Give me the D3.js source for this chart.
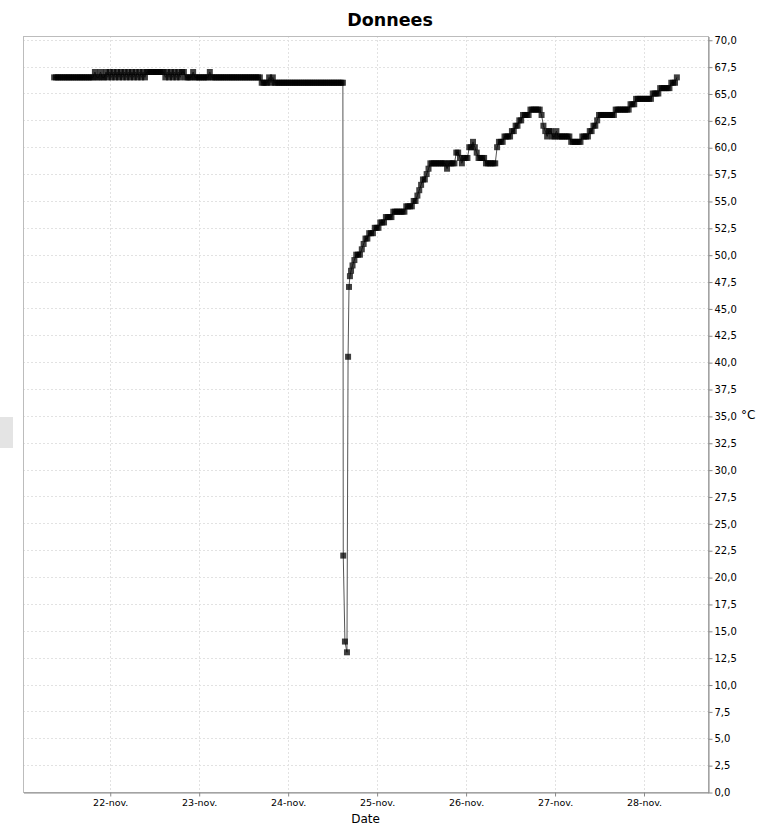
<!DOCTYPE html>
<html>
<head>
<meta charset="utf-8">
<script src="https://cdn.jsdelivr.net/npm/d3@7"></script>
<style>
  body { margin: 0; background: #fff; }
  text { font-family: "DejaVu Sans", sans-serif; }
</style>
</head>
<body>
<svg id="chart"></svg>
<script>
    // releves toutes les 30 min ; heures comptees depuis le 22-nov 00:00
    var pasHeures = 0.5;
    var debutPalier = -15;
    var palier = [
        66.5,66.5,66.5,66.5,66.5,66.5,66.5,66.5,66.5,66.5,66.5,66.5,
        66.5,66.5,66.5,66.5,66.5,66.5,66.5,66.5,66.5,66.5,67,66.5,
        66.5,67,66.5,66.5,67,66.5,67,66.5,67,66.5,67,66.5,
        67,66.5,67,66.5,67,66.5,67,66.5,67,66.5,67,66.5,
        67,66.5,67,67,67,67,67,67,67,67,67,67,
        66.5,67,66.5,67,66.5,67,66.5,67,66.5,67,67,66.5,
        66.5,66.5,66.5,67,66.5,66.5,66.5,66.5,66.5,66.5,66.5,66.5,
        67,66.5,66.5,66.5,66.5,66.5,66.5,66.5,66.5,66.5,66.5,66.5,
        66.5,66.5,66.5,66.5,66.5,66.5,66.5,66.5,66.5,66.5,66.5,66.5,
        66.5,66.5,66.5,66.5,66,66,66,66,66.5,66,66.5,66,
        66,66,66,66,66,66,66,66,66,66,66,66,
        66,66,66,66,66,66,66,66,66,66,66,66,
        66,66,66,66,66,66,66,66,66,66,66,66
    ];
    // chute brutale : releves irreguliers [heure, °C]
    var chute = [
        [62.9,66],[63,22],[63.45,14],[64,13],[64.3,40.5],[64.55,47],[64.8,48],[65.1,48.5],[65.5,49],[66,49.5]
    ];
    var debutRemontee = 66.5;
    var remontee = [
        50,50,50,50.5,51,51.5,51.5,52,52,52,52.5,52.5,
        52.5,53,53,53,53.5,53.5,53.5,53.5,54,54,54,54,
        54,54,54,54.5,54.5,54.5,54.5,55,55,55.5,56,56.5,
        57,57,57.5,58,58.5,58.5,58.5,58.5,58.5,58.5,58.5,58.5,
        58.5,58,58.5,58.5,58.5,58.5,59.5,59.5,59,58.5,59,59,
        59,60,60,60.5,60,59.5,59,59,59,59,58.5,58.5,
        58.5,58.5,58.5,58.5,60,60.5,60.5,60.5,61,61,61,61,
        61.5,61.5,62,62,62.5,62.5,63,63,63,63,63.5,63.5,
        63.5,63.5,63.5,63.5,63,62,61.5,61,61.5,61.5,61,61,
        61.5,61,61,61,61,61,61,61,60.5,60.5,60.5,60.5,
        60.5,60.5,61,61,61,61,61.5,61.5,62,62,62.5,63,
        63,63,63,63,63,63,63,63,63.5,63.5,63.5,63.5,
        63.5,63.5,63.5,63.5,64,64,64,64.5,64.5,64.5,64.5,64.5,
        64.5,64.5,64.5,64.5,65,65,65,65,65.5,65.5,65.5,65.5,
        65.5,65.5,66,66,66,66.5
    ];
    var ticksY = d3.range(0, 70.01, 2.5);
    var moisCourts = ["janv.","févr.","mars","avr.","mai","juin","juil.","août","sept.","oct.","nov.","déc."];

    var width = 765;
    var height = 828;
    var plotG = 23, plotD = 708, plotH = 36, plotB = 792;

    var origine = new Date(2023, 10, 22);
    var releves = palier.map(function(v, i) { return [debutPalier + i * pasHeures, v]; })
        .concat(chute)
        .concat(remontee.map(function(v, i) { return [debutRemontee + i * pasHeures, v]; }));
    var data = releves.map(function(d) {
        return { date: new Date(origine.getTime() + d[0] * 3600e3), temp: d[1] };
    });

    var locale = d3.timeFormatLocale({
        dateTime: "%A %e %B %Y à %X", date: "%d/%m/%Y", time: "%H:%M:%S",
        periods: ["AM", "PM"],
        days: ["dimanche","lundi","mardi","mercredi","jeudi","vendredi","samedi"],
        shortDays: ["dim.","lun.","mar.","mer.","jeu.","ven.","sam."],
        months: ["janvier","février","mars","avril","mai","juin","juillet","août","septembre","octobre","novembre","décembre"],
        shortMonths: moisCourts
    });
    var formatJour = locale.format("%d-%b");

    var chart = d3.select('#chart')
        .attr('width', width)
        .attr('height', height);

    // marge de 5% de chaque cote, comme le graphique d'origine
    var ext = d3.extent(data, function(d) { return d.date; });
    var marge = (ext[1] - ext[0]) * 0.05;
    var x = d3.scaleTime()
        .domain([new Date(+ext[0] - marge), new Date(+ext[1] + marge)])
        .range([plotG, plotD]);
    var y = d3.scaleLinear().domain([0, 70.35]).range([plotB, plotH]);

    // petit bouton gris a gauche
    chart.append('rect')
        .attr('x', 0).attr('y', 417).attr('width', 13).attr('height', 31)
        .attr('fill', '#e4e4e4');

    // grille
    var jours = x.ticks(d3.timeDay.every(1));
    chart.append('g').selectAll('line')
        .data(jours).enter().append('line')
        .attr('x1', function(d) { return Math.round(x(d)) + 0.5; })
        .attr('x2', function(d) { return Math.round(x(d)) + 0.5; })
        .attr('y1', plotH).attr('y2', plotB)
        .attr('stroke', '#e2e2e2').attr('stroke-dasharray', '2,2');
    chart.append('g').selectAll('line')
        .data(ticksY).enter().append('line')
        .attr('y1', function(d) { return Math.round(y(d)) + 0.5; })
        .attr('y2', function(d) { return Math.round(y(d)) + 0.5; })
        .attr('x1', plotG).attr('x2', plotD)
        .attr('stroke', '#e2e2e2').attr('stroke-dasharray', '2,2');

    // cadre
    chart.append('rect')
        .attr('x', plotG + 0.5).attr('y', plotH + 0.5)
        .attr('width', plotD - plotG).attr('height', plotB - plotH)
        .attr('fill', 'none').attr('stroke', '#bcbcbc');

    // axes
    var xAxis = d3.axisBottom(x).tickValues(jours).tickFormat(formatJour)
        .tickSize(4).tickSizeOuter(0).tickPadding(3);
    var axisX = chart.append('g')
        .attr('transform', 'translate(0.5,' + (plotB + 0.5) + ')')
        .call(xAxis);
    axisX.select('.domain').attr('stroke', '#8a8a8a');
    axisX.selectAll('.tick line').attr('stroke', '#8a8a8a');
    axisX.selectAll('text').attr('font-size', '9.5px').attr('fill', '#000')
        .attr('font-family', 'DejaVu Sans');

    var yAxis = d3.axisRight(y).tickValues(ticksY)
        .tickFormat(function(d) { return d.toFixed(1).replace('.', ','); })
        .tickSize(4).tickSizeOuter(0).tickPadding(2);
    var axisY = chart.append('g')
        .attr('transform', 'translate(' + (plotD + 0.5) + ',0.5)')
        .call(yAxis);
    axisY.select('.domain').attr('stroke', '#8a8a8a');
    axisY.selectAll('.tick line').attr('stroke', '#8a8a8a');
    axisY.selectAll('text').attr('font-size', '10px').attr('fill', '#000')
        .attr('font-family', 'DejaVu Sans');

    // courbe
    var line = d3.line()
        .x(function(d) { return x(d.date); })
        .y(function(d) { return y(d.temp); });
    chart.append('path')
        .datum(data)
        .attr('d', line)
        .attr('fill', 'none')
        .attr('stroke', '#555')
        .attr('stroke-width', 1);

    chart.append('g').selectAll('rect')
        .data(data).enter().append('rect')
        .attr('x', function(d) { return x(d.date) - 3; })
        .attr('y', function(d) { return y(d.temp) - 3; })
        .attr('width', 6).attr('height', 6)
        .attr('fill', '#000').attr('fill-opacity', 0.75);

    // titres
    chart.append('text')
        .attr('x', 390).attr('y', 26)
        .attr('text-anchor', 'middle')
        .attr('font-size', '17.5px').attr('font-weight', 'bold')
        .text('Donnees');
    chart.append('text')
        .attr('x', (plotG + plotD) / 2).attr('y', 823)
        .attr('text-anchor', 'middle').attr('font-size', '12px')
        .text('Date');
    chart.append('text')
        .attr('x', 741).attr('y', 419)
        .attr('font-size', '12px')
        .text('°C');
</script>
</body>
</html>
